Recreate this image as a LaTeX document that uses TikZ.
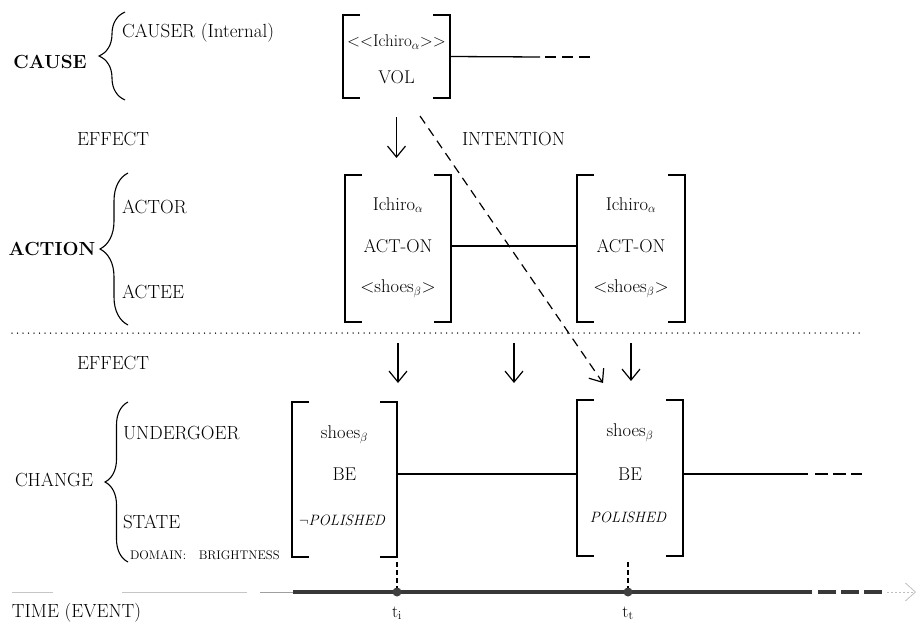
\documentclass[tikz,border=0pt]{standalone}
\usetikzlibrary{arrows.meta,decorations.pathreplacing,calc}
\begin{document}
\begin{tikzpicture}[x=1pt,y=-1pt,
  every node/.style={inner sep=0pt, outer sep=0pt},
  lbl/.style={anchor=west, font=\fontsize{19}{22}\selectfont},
  plain/.style={font=\fontsize{19}{22}\selectfont},
  head/.style={font=\fontsize{19}{22}\selectfont\bfseries},
  small/.style={anchor=west, font=\fontsize{12.5}{14}\selectfont},
  cell/.style={font=\fontsize{18.5}{22}\selectfont},
  tight/.style={font=\fontsize{17}{20}\selectfont},
  state/.style={font=\fontsize{15}{18}\selectfont\itshape},
  brk/.style={line width=1.6pt, line join=miter},
  brc/.style={decorate, decoration={brace, amplitude=#1}, line width=1.1pt},
  ln/.style={line width=1.3pt},
  arr/.style={line width=1.2pt, -{Straight Barb[length=11pt, width=18pt]}},
  dsh/.style={dash pattern=on 9pt off 6pt},
  tpt/.style={circle, fill=black!75, minimum size=9pt},
  tline/.style={line width=3.5pt, black!78},
  tick/.style={line width=1.3pt, dash pattern=on 5pt off 3pt}
]
\useasboundingbox (0,0) rectangle (917,626);

% ---------- CAUSE tier ----------
\node[head] (cause) at (50,62) {CAUSE};
\draw[brc=26] (125,100) -- (125,12);
\node[lbl] (causer) at (122,33) {CAUSER (Internal)};
\node[minimum width=107, minimum height=83] (box1) at (396.5,56.5) {};
\node[tight] (vi) at (396.5,42) {<{}<Ichiro$_\alpha$>{}>};
\node[cell] (vol) at (396.5,77) {VOL};
\coordinate (cmid) at (540,57);
\coordinate (cdash) at (545,57);
\coordinate (cend) at (592,57);
\draw[ln] (box1.east) -- (cmid);
\draw[ln, dash pattern=on 11pt off 6pt] (cdash) -- (cend);

\node[lbl] (eff1) at (77,139) {EFFECT};
\node[lbl] (intent) at (462,139) {INTENTION};

% ---------- ACTION tier ----------
\node[head] (action) at (52,249) {ACTION};
\draw[brc=28] (128,325) -- (128,173);
\node[lbl] (actor) at (122,207) {ACTOR};
\node[lbl] (actee) at (122,292) {ACTEE};
\node[minimum width=106, minimum height=147] (boxA) at (398,248.5) {};
\node[minimum width=108, minimum height=147] (boxB) at (631,248.5) {};
\node[cell] (a1) at (398,205) {Ichiro$_\alpha$};
\node[cell] (a2) at (398,246) {ACT-ON};
\node[cell] (a3) at (398,289) {<shoes$_\beta$>};
\node[cell] (b1) at (631,205) {Ichiro$_\alpha$};
\node[cell] (b2) at (631,246) {ACT-ON};
\node[cell] (b3) at (631,289) {<shoes$_\beta$>};
\draw[ln] (boxA.east |- a2) -- (boxB.west |- b2);

% separator
\draw[line width=1.5pt, dash pattern=on 0pt off 5.5pt, line cap=round] (12,333) -- (860,333);

\node[lbl] (eff2) at (77,363) {EFFECT};

% ---------- CHANGE tier ----------
\node[plain] (change) at (54,480) {CHANGE};
\draw[brc=23] (128,562) -- (128,402);
\node[lbl] (und) at (123,433) {UNDERGOER};
\node[lbl] (state) at (123,522) {STATE};
\node[small] (dom) at (130,555) {DOMAIN:\quad BRIGHTNESS};
\node[minimum width=105, minimum height=155] (boxC) at (344.5,479.5) {};
\node[minimum width=106, minimum height=156] (boxD) at (630,478) {};
\node[cell] (c1) at (344.5,435) {shoes$_\beta$};
\node[cell] (c2) at (344.5,474) {BE};
\node[state] (c3) at (342,520) {$\neg$POLISHED};
\node[cell] (d1) at (630,433) {shoes$_\beta$};
\node[cell] (d2) at (630,474) {BE};
\node[state] (d3) at (628,517) {POLISHED};
\draw[ln] (boxC.east |- c2) -- (boxD.west |- d2);
\coordinate (dmid) at (808,474);
\coordinate (ddash) at (815,474);
\coordinate (dend) at (862,474);
\draw[ln] (boxD.east |- d2) -- (dmid);
\draw[ln, dash pattern=on 13pt off 5pt] (ddash) -- (dend);

% square brackets around the feature boxes
\foreach \b in {box1,boxA,boxB,boxC,boxD}{
  \draw[brk] ([xshift=17pt]\b.north west) -- (\b.north west) -- (\b.south west) -- ([xshift=17pt]\b.south west);
  \draw[brk] ([xshift=-17pt]\b.north east) -- (\b.north east) -- (\b.south east) -- ([xshift=-17pt]\b.south east);
}

% effect arrows
\coordinate (mid) at ($(boxA.south east)!.5!(boxB.south west)$);
\draw[arr, shorten <=19pt, shorten >=17pt] (box1.south) -- (box1.south |- boxA.north);
\draw[arr, shorten <=21pt, shorten >=19pt] (boxA.south) -- (boxA.south |- boxC.north);
\draw[arr, shorten <=21pt, shorten >=19pt] (mid) -- (mid |- boxC.north);
\draw[arr, shorten <=21pt, shorten >=19pt] (boxB.south) -- (boxB.south |- boxD.north);

% intention
\coordinate (intS) at ($(box1.south east)+(-30,18)$);
\coordinate (intE) at ($(boxD.north west)+(26,-17)$);
\draw[arr, dsh] (intS) -- (intE);

% ---------- time line ----------
\draw[gray!45, line width=1pt] (12,592) -- (53,592) (122,592) -- (247,592);
\coordinate (tA) at (293,592);
\coordinate (tB) at (812,592);
\coordinate (tC) at (818,592);
\coordinate (tD) at (882,592);
\coordinate (tE) at (887,592);
\coordinate (tF) at (916,592);
\draw[gray!75, line width=1pt] (260,592) -- (tA);
\draw[tline] (tA) -- (tB);
\draw[tline, dash pattern=on 18pt off 5pt] (tC) -- (tD);
\draw[gray!50, line width=0.8pt, dash pattern=on 2pt off 2pt, -{Straight Barb[length=10pt, width=18pt]}] (tE) -- (tF);
\node[tpt] (ti) at (397,592) {};
\node[tpt] (tt) at (628,592) {};
\draw[tick, shorten <=5pt] (boxC.south east) -- (ti);
\draw[tick, shorten <=6pt] (tt |- boxD.south) -- (tt);
\node[cell] (til) at (397,613) {$\mathrm{t_i}$};
\node[cell] (ttl) at (628,613) {$\mathrm{t_t}$};
\node[lbl] (time) at (12,613) {TIME (EVENT)};
\end{tikzpicture}
\end{document}
